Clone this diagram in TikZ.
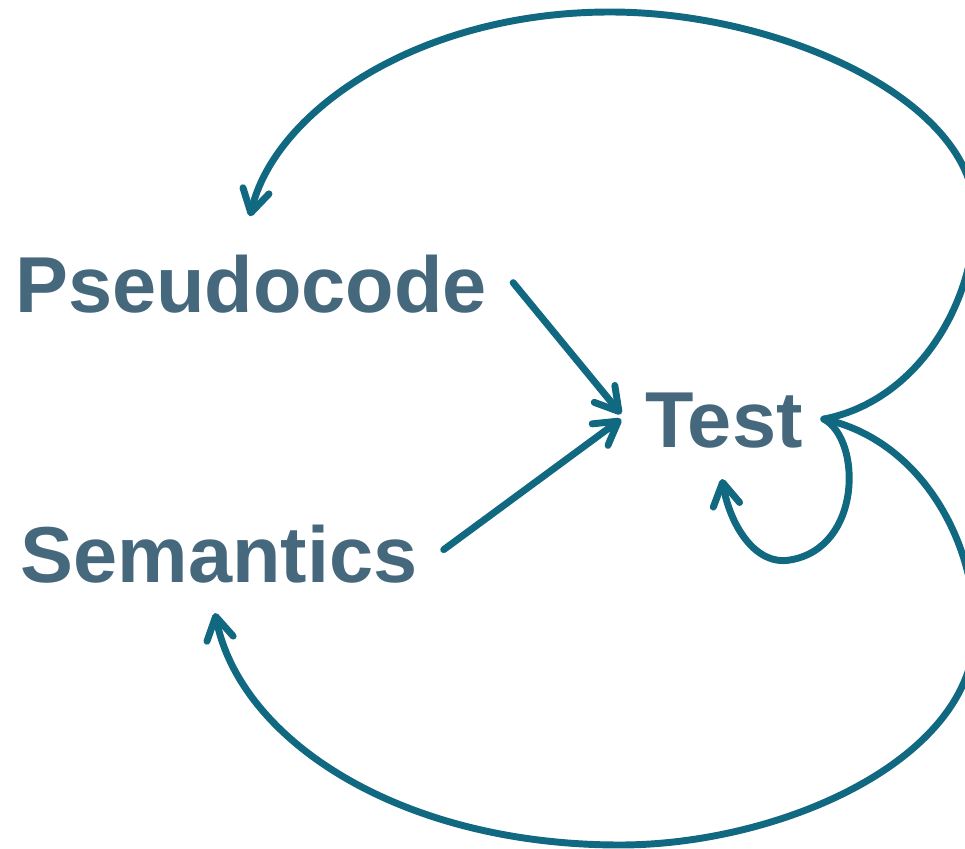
\documentclass[tikz,border=0pt]{standalone}
\usepackage{fontspec}
\setmainfont{Liberation Sans}
\usetikzlibrary{arrows.meta,calc}
\definecolor{labelblue}{RGB}{69,104,124}
\definecolor{flowteal}{RGB}{16,105,128}
\begin{document}
\begin{tikzpicture}[x=0.75pt,y=-0.75pt,
  word/.style={text=labelblue,font=\fontsize{59.5}{70}\selectfont\bfseries,inner sep=0pt,anchor=base},
  flow/.style={draw=flowteal,line width=5.2pt,line cap=round,line join=round,
    -{Straight Barb[length=17pt,width=20pt,line cap=round,line join=round]}}]
\useasboundingbox (0,0) rectangle (965,849);
\clip (0,0) rectangle (965,849);

% labels
\node[word] (pseudo) at (251,312) {Pseudocode};
\node[word] (sem) at (219,582) {Semantics};
\node[word] (test) at (724,447) {Test};

% connector ends
\coordinate (hub) at ($(test.east)+(21,-1)$);
\coordinate (pout) at ($(pseudo.east)+(26,-1)$);
\coordinate (sout) at ($(sem.east)+(26,-4)$);
\coordinate (tinA) at ($(test.west)+(-24,-6)$);
\coordinate (tinB) at ($(test.west)+(-24,-1)$);
\coordinate (ptop) at ($(pseudo.north)+(-1,-38)$);
\coordinate (sbot) at ($(sem.south)+(-4,30)$);
\coordinate (tbot) at ($(test.south)+(-2,31)$);

% inputs into Test
\draw[flow] (pout) -- (tinA);
\draw[flow] (sout) -- (tinB);

% feedback loops out of Test
\draw[flow] (hub) .. controls (920,400) and (975,300) .. (975,215)
  .. controls (975,100) and (780,12) .. (610,12)
  .. controls (420,12) and (275,110) .. (ptop);
\draw[flow] (hub) .. controls (920,440) and (975,540) .. (975,630)
  .. controls (975,760) and (780,845) .. (620,845)
  .. controls (400,845) and (240,740) .. (sbot);
\draw[flow] (hub) .. controls (862,440) and (862,548) .. (790,560)
  .. controls (755,566) and (730,525) .. (tbot);
\end{tikzpicture}
\end{document}
